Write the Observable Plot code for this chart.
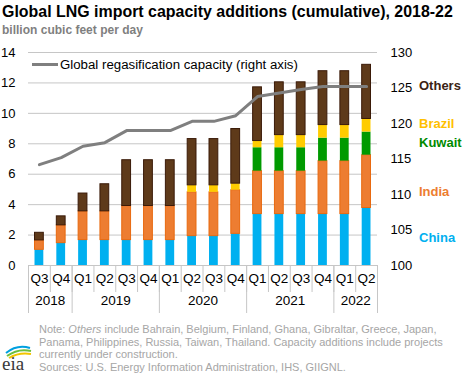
<!DOCTYPE html>
<html><head><meta charset="utf-8">
<script src="https://cdn.jsdelivr.net/npm/d3@7"></script>
<script src="https://cdn.jsdelivr.net/npm/@observablehq/plot@0.6"></script>
<style>
body{margin:0;font-family:"Liberation Sans",Arial,sans-serif;background:#fff}
#wrap{position:relative;width:468px;height:378px;overflow:hidden;background:#fff}
.abs{position:absolute;white-space:nowrap;line-height:1}
</style></head><body><div id="wrap"></div>
<script>
// ---- data ----
const quarters = ["Q3","Q4","Q1","Q2","Q3","Q4","Q1","Q2","Q3","Q4","Q1","Q2","Q3","Q4","Q1","Q2"];
const yearLabels = ["2018","2019","2020","2021","2022"];
const yearSpans = [2,4,4,4,2];
const seriesNames = ["China","India","Kuwait","Brazil","Others"];
const china  = [1.03,1.47,1.67,1.67,1.67,1.67,1.67,1.93,1.93,2.08,3.38,3.38,3.38,3.38,3.38,3.78];
const india  = [0.62,1.17,1.89,1.89,2.24,2.24,2.24,2.88,2.88,2.87,2.82,2.82,2.82,3.48,3.48,3.47];
const kuwait = [0,0,0,0,0,0,0,0,0,0,1.54,1.54,1.54,1.51,1.51,1.52];
const brazil = [0,0,0,0,0,0,0,0.46,0.46,0.43,0.44,0.83,0.83,0.86,0.86,0.86];
const others = [0.50,0.59,1.17,1.78,3.01,3.01,3.01,3.04,3.04,3.59,3.53,3.47,3.47,3.54,3.54,3.56];
const regas  = [114.2,115.2,116.8,117.3,119.0,119.0,119.0,120.3,120.3,121.1,123.8,124.3,124.8,125.2,125.2,125.2];
const leftTicks = [0,2,4,6,8,10,12,14];
const rightTicks = [100,105,110,115,120,125,130];

// ---- styles ----
const fills   = {China:"#00b0f0", India:"#ed7d31", Kuwait:"#009a00", Brazil:"#ffcc00", Others:"#5e3a1a"};
const strokes = {China:"none", India:"#e8690f", Kuwait:"none", Brazil:"none", Others:"#3a1a08"};
const labelColors = {China:"#00b0f0", India:"#ed7d31", Kuwait:"#008a00", Brazil:"#ffc000", Others:"#3b2314"};
const seriesValues = {China:china, India:india, Kuwait:kuwait, Brazil:brazil, Others:others};

const rows = [];
seriesNames.forEach(s => seriesValues[s].forEach((v, i) => { if (v > 0) rows.push({i, series:s, value:v}); }));

const L0 = 100, L1 = 130, Y0 = 0, Y1 = 14;
const toLeft = v => (v - L0) * (Y1 - Y0) / (L1 - L0);
const toRight = d => Math.round(L0 + d * (L1 - L0) / (Y1 - Y0));

const W = 468, H = 378, mL = 28, mR = 91, mT = 52, mB = 113;
const step = (W - mL - mR) / quarters.length;
const inset = (step - 8.8) / 2;

const boundaries = d3.range(0, quarters.length + 1);
const yearBounds = [0, ...d3.cumsum(yearSpans)];
const yearCenters = yearSpans.map((n, k) => yearBounds[k] + n / 2);

const chart = Plot.plot({
  width: W, height: H,
  marginLeft: mL, marginRight: mR, marginTop: mT, marginBottom: mB,
  style: {fontFamily: '"Liberation Sans", Arial, sans-serif', fontSize: "13px", color: "#000", background: "transparent", overflow: "visible"},
  x: {type: "linear", domain: [0, quarters.length], axis: null},
  y: {domain: [Y0, Y1], axis: null},
  color: {type: "identity"},
  marks: [
    Plot.gridY(leftTicks, {stroke: "#c6c6c6", strokeOpacity: 1, strokeWidth: 1}),
    Plot.axisY(leftTicks, {anchor: "left", tickSize: 0, tickPadding: 13, fontSize: 13, fill: "#000", label: null}),
    Plot.axisY(rightTicks.map(toLeft), {anchor: "right", tickSize: 0, tickPadding: 13, fontSize: 13, fill: "#000", tickFormat: toRight, label: null}),
    Plot.rectY(rows, Plot.stackY({
      x1: "i", x2: d => d.i + 1, y: "value",
      fill: d => fills[d.series], stroke: d => strokes[d.series], strokeWidth: 1,
      insetLeft: inset, insetRight: inset
    })),
    Plot.line(regas, {x: (d, i) => i + 0.5, y: d => toLeft(d), stroke: "#7f7f7f", strokeWidth: 3}),
    Plot.ruleX(boundaries, {x: d => d, y1: 0, y2: 0, insetBottom: -27, stroke: "#c6c6c6"}),
    Plot.ruleX(yearBounds, {x: d => d, y1: 0, y2: 0, insetBottom: -48, stroke: "#c6c6c6"}),
    Plot.text(quarters, {x: (d, i) => i + 0.5, text: d => d, frameAnchor: "bottom", dy: 17.5, fontSize: 13.5, fill: "#000"}),
    Plot.text(yearLabels, {x: (d, k) => yearCenters[k], text: d => d, frameAnchor: "bottom", dy: 39.5, fontSize: 13.5, fill: "#000"})
  ]
});

const wrap = document.getElementById("wrap");
chart.style.position = "absolute"; chart.style.left = "0"; chart.style.top = "0";
wrap.appendChild(chart);

const ctx = document.createElement("canvas").getContext("2d");
function fitSize(text, weight, target) {
  ctx.font = `${weight} 100px "Liberation Sans", Arial, sans-serif`;
  return 100 * target / ctx.measureText(text).width;
}
function add(html, css) {
  const d = document.createElement("div");
  d.className = "abs"; d.innerHTML = html; Object.assign(d.style, css);
  wrap.appendChild(d); return d;
}
const titleText = "Global LNG import capacity additions (cumulative), 2018-22";
const subText = "billion cubic feet per day";
const legendText = "Global regasification capacity (right axis)";
add(titleText, {left:"2px", top:"4px", fontSize: fitSize(titleText, "bold", 451) + "px", fontWeight:"bold", color:"#000"});
add(subText, {left:"2px", top:"24px", fontSize: fitSize(subText, "bold", 141) + "px", fontWeight:"bold", color:"#7f7f7f"});
// line legend
add('<span style="display:inline-block;width:26px;height:3px;background:#7f7f7f;vertical-align:middle;margin-right:2px;position:relative;top:-1px"></span>' + legendText,
    {left:"32px", top:"58px", fontSize: fitSize(legendText, "normal", 238) + "px", color:"#000"});
// series labels on the right
const labelY = {Others:86, Brazil:124, Kuwait:143, India:192, China:238};
seriesNames.forEach(s => add(s, {left:"419px", top:(labelY[s] - 7) + "px", fontSize:"13px", fontWeight:"bold", color:labelColors[s]}));
// notes
const noteLines = [
  'Note: <i>Others</i> include Bahrain, Belgium, Finland, Ghana, Gibraltar, Greece, Japan,',
  'Panama, Philippines, Russia, Taiwan, Thailand. Capacity additions include projects',
  'currently under construction.',
  'Sources: U.S. Energy Information Administration, IHS, GIIGNL.'
];
noteLines.forEach((t, k) => add(t, {left:"39px", top:(324 + k * 12.7) + "px", fontSize:"11px", color:"#a6a6a6"}));
// logo
add('<svg width="34" height="34" viewBox="0 0 34 34"><path d="M6 11 Q17 2 30 6" stroke="#00a0e0" stroke-width="2" fill="none"/><path d="M7 14 Q18 6 31 9" stroke="#6cbf3f" stroke-width="2" fill="none"/><path d="M9 16 Q19 10 31 12" stroke="#f2c500" stroke-width="2" fill="none"/><text x="2" y="28" font-family="Liberation Serif, serif" font-size="19" fill="#3a3a3a">eia</text></svg>',
    {left:"0px", top:"342px"});
</script></body></html>
